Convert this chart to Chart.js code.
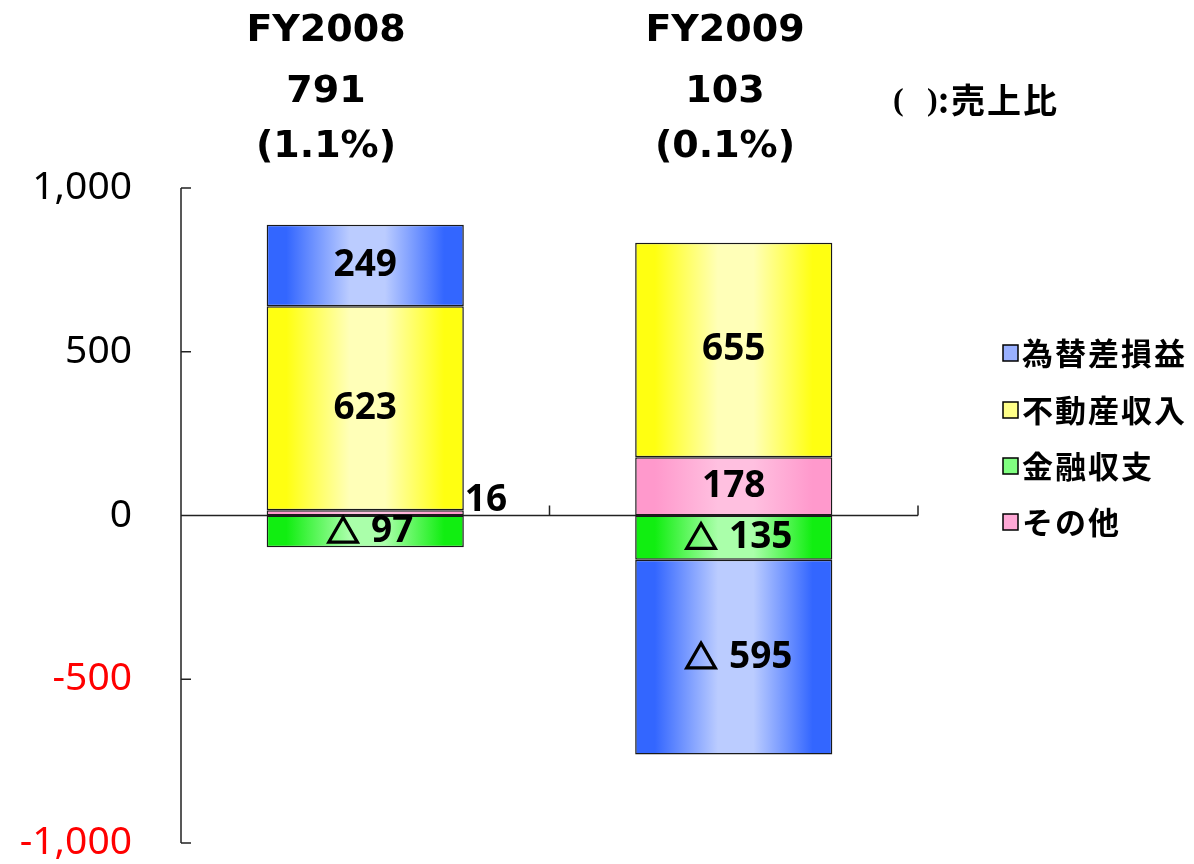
<!DOCTYPE html>
<html>
<head>
<meta charset="utf-8">
<script src="https://cdn.jsdelivr.net/npm/chart.js@4"></script>
<style>
    body { margin: 0; background: #ffffff; }
    #wrap { width: 1194px; height: 864px; }
</style>
</head>
<body>
<div id="wrap"><canvas id="incomeChart" width="1194" height="864"></canvas></div>
<script>
// 営業外損益の内訳
const categories     = ['FY2008', 'FY2009'];
const totals         = [791, 103];
const salesRatio     = ['1.1%', '0.1%'];
const fxValues       = [249, -595];   // 為替差損益
const realEstateVals = [623, 655];    // 不動産収入
const financeValues  = [-97, -135];   // 金融収支
const otherValues    = [16, 178];     // その他
const yTickValues    = [-1000, -500, 0, 500, 1000];

const BAR_FRAC = 0.535;

function barGradient(c, strong, light) {
    const chart = c.chart;
    const x = chart.scales.x;
    if (!x || !x.width) return strong;
    const center = x.getPixelForValue(c.dataIndex);
    const w = x.width / categories.length * BAR_FRAC;
    const g = chart.ctx.createLinearGradient(center - w / 2, 0, center + w / 2, 0);
    g.addColorStop(0, strong);
    g.addColorStop(0.1, strong);
    g.addColorStop(0.42, light);
    g.addColorStop(0.6, light);
    g.addColorStop(0.9, strong);
    g.addColorStop(1, strong);
    return g;
}

// order matters for stacking: pink bottom, then green (negative), yellow, blue
const series = [
    { label: 'その他',     data: otherValues,    strong: '#ff99cc', light: '#ffc0e0', box: '#ffa8d6' },
    { label: '金融収支',   data: financeValues,  strong: '#11ee11', light: '#aaffaa', box: '#80ff80' },
    { label: '不動産収入', data: realEstateVals, strong: '#ffff11', light: '#ffffb8', box: '#ffff88' },
    { label: '為替差損益', data: fxValues,       strong: '#3366ff', light: '#bbccff', box: '#99b0ff' }
];

// bold outlined triangle, drawn as a path so it matches the digits' weight
function drawDelta(ctx, cx, cy, size) {
    ctx.save();
    ctx.lineWidth = 3.2;
    ctx.lineJoin = 'miter';
    ctx.strokeStyle = '#000';
    ctx.beginPath();
    ctx.moveTo(cx, cy - size * 0.5);
    ctx.lineTo(cx + size * 0.55, cy + size * 0.45);
    ctx.lineTo(cx - size * 0.55, cy + size * 0.45);
    ctx.closePath();
    ctx.stroke();
    ctx.restore();
}

const axisPlugin = {
    id: 'axisLines',
    beforeDatasetsDraw(chart) {
        const { ctx, chartArea, scales: { x, y } } = chart;
        ctx.save();
        ctx.strokeStyle = '#222';
        ctx.lineWidth = 1.5;
        ctx.beginPath();
        ctx.moveTo(chartArea.left, y.getPixelForValue(1000));
        ctx.lineTo(chartArea.left, y.getPixelForValue(-1000));
        yTickValues.forEach(v => {
            const py = y.getPixelForValue(v);
            ctx.moveTo(chartArea.left, py);
            ctx.lineTo(chartArea.left + 10, py);
        });
        const y0 = y.getPixelForValue(0);
        ctx.moveTo(chartArea.left, y0);
        ctx.lineTo(chartArea.right, y0);
        const cw = x.width / categories.length;
        for (let i = 1; i <= categories.length; i++) {
            const bx = chartArea.left + cw * i;
            ctx.moveTo(bx, y0);
            ctx.lineTo(bx, y0 - 10);
        }
        ctx.stroke();
        ctx.restore();
    },
    afterDatasetsDraw(chart) {
        const ctx = chart.ctx;
        ctx.save();
        ctx.fillStyle = '#000';
        ctx.font = 'bold 37px "Noto Sans", "DejaVu Sans", sans-serif';
        ctx.textBaseline = 'middle';
        chart.data.datasets.forEach((ds, di) => {
            const meta = chart.getDatasetMeta(di);
            meta.data.forEach((el, i) => {
                const v = ds.data[i];
                const h = Math.abs(el.base - el.y);
                const cy = (el.y + el.base) / 2;
                if (v < 0) {
                    // "△ nnn" centred on the segment
                    const num = String(Math.abs(v));
                    const triW = 28, gap = 14;
                    const numW = ctx.measureText(num).width;
                    const total = triW + gap + numW;
                    const left = el.x - total / 2 + 6;
                    drawDelta(ctx, left + triW / 2, cy - 1, 26);
                    ctx.textAlign = 'left';
                    ctx.fillText(num, left + triW + gap, cy);
                } else if (h < 30) {
                    ctx.textAlign = 'left';
                    ctx.fillText(String(v), el.x + el.width / 2 + 1, el.y - 10);
                } else {
                    ctx.textAlign = 'center';
                    ctx.fillText(String(v), el.x, cy);
                }
            });
        });
        ctx.restore();
    },
    afterDraw(chart) {
        const ctx = chart.ctx;
        ctx.save();
        // header above each bar
        const headerX = [326, 725];
        ctx.fillStyle = '#000';
        ctx.textAlign = 'center';
        ctx.textBaseline = 'middle';
        ctx.font = 'bold 38px "DejaVu Sans", sans-serif';
        categories.forEach((c, i) => {
            ctx.fillText(c, headerX[i], 31);
            ctx.fillText(String(totals[i]), headerX[i], 92);
            ctx.fillText('(' + salesRatio[i] + ')', headerX[i], 147);
        });

        // note
        ctx.textAlign = 'left';
        ctx.font = 'bold 32px "Liberation Serif", serif';
        ctx.fillText('(', 893, 102);
        ctx.fillText(')', 927, 102);
        ctx.font = 'bold 34px "Noto Sans CJK JP", sans-serif';
        ctx.letterSpacing = '2px';
        ctx.fillText(':売上比', 938, 100);

        // legend (reverse dataset order)
        ctx.letterSpacing = '2px';
        ctx.font = 'bold 31px "Noto Sans CJK JP", sans-serif';
        const rows = [353, 410, 466, 522];
        series.slice().reverse().forEach((s, k) => {
            const ry = rows[k];
            ctx.fillStyle = s.box;
            ctx.fillRect(1003, ry - 8, 15, 16);
            ctx.strokeStyle = '#000';
            ctx.lineWidth = 1.5;
            ctx.strokeRect(1003, ry - 8, 15, 16);
            ctx.fillStyle = '#000';
            ctx.fillText(s.label, 1022, ry);
        });
        ctx.restore();
    }
};

const ctx = document.getElementById('incomeChart').getContext('2d');
const incomeChart = new Chart(ctx, {
    type: 'bar',
    data: {
        labels: categories,
        datasets: series.map(s => ({
            label: s.label,
            data: s.data,
            backgroundColor: c => barGradient(c, s.strong, s.light),
            borderColor: '#1a1a1a',
            borderWidth: 1.5,
            borderSkipped: false,
            categoryPercentage: 1,
            barPercentage: BAR_FRAC
        }))
    },
    options: {
        responsive: false,
        animation: false,
        devicePixelRatio: 1,
        layout: { padding: { top: 188, right: 276, bottom: 21, left: 0 } },
        plugins: {
            legend: { display: false },
            tooltip: { enabled: false }
        },
        scales: {
            x: {
                stacked: true,
                display: false
            },
            y: {
                stacked: true,
                min: -1000,
                max: 1000,
                border: { display: false },
                grid: { display: false, drawTicks: false },
                ticks: {
                    stepSize: 500,
                    padding: 49,
                    font: { family: '"Noto Sans", sans-serif', size: 39 },
                    color: c => c.tick.value < 0 ? '#ff0000' : '#000000'
                },
                afterFit(scale) {
                    scale.width = 181;
                    scale.paddingTop = 0;
                    scale.paddingBottom = 0;
                }
            }
        }
    },
    plugins: [axisPlugin]
});
</script>
</body>
</html>
